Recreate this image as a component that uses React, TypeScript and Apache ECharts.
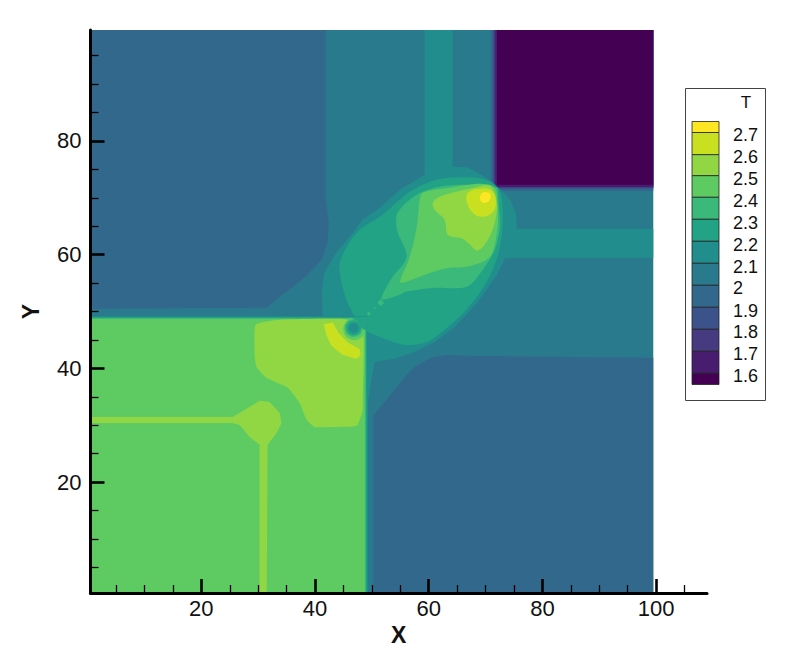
import React, { useEffect, useRef } from "react";
import * as echarts from "echarts";

type Pt = [number, number];

const FONT = "'Liberation Sans', Arial, sans-serif";

const legendTitle = "T";
const legendLabels = ["2.7", "2.6", "2.5", "2.4", "2.3", "2.2", "2.1", "2", "1.9", "1.8", "1.7", "1.6"];
const bandColors = ["#fde725", "#c8e020", "#91d743", "#5ecb62", "#3bb97a", "#22a385", "#218e8d", "#2a7a8e", "#33688d", "#3b528b", "#463a81", "#481d6f", "#440154"];
const [cTop, c27, c26, c25, c24, c23, c22, c21, c20, c19, c18, c17, c16] = bandColors;

const xMajor = [20, 40, 60, 80, 100];
const xMinor = [5, 10, 15, 25, 30, 35, 45, 50, 55, 65, 70, 75, 85, 90, 95, 105];
const yMajor = [20, 40, 60, 80];
const yMinor = [5, 10, 15, 25, 30, 35, 45, 50, 55, 65, 70, 75, 85, 90, 95];

const domain: Pt[] = [[0.5, 0.5], [99.5, 0.5], [99.5, 99.5], [0.5, 99.5]];
const topLeft20: Pt[] = [[0.5, 99.5], [41.9, 99.5], [41.9, 69.65], [42.4, 65.6], [42.2, 62.1], [41.2, 59.1], [38.7, 56.5], [36.1, 54.3], [33.8, 52.6], [31.5, 50.65], [0.5, 50.5]];
const bottomRight20: Pt[] = [[50.3, 0.5], [99.5, 0.5], [99.5, 41.85], [66.3, 42.2], [63.4, 42.4], [60.5, 41.85], [57.5, 40.3], [55.8, 38.5], [52.8, 34.8], [50.3, 31.8]];

const corner = (x: number, y: number): Pt[] => [[x, y], [99.5, y], [99.5, 99.5], [x, 99.5]];
const corner20 = corner(70.9, 71.2);
const corner19 = corner(71.3, 71.6);
const corner18 = corner(71.45, 71.75);
const corner17 = corner(71.7, 71.9);
const corner16 = corner(72, 72.3);

const blob22: Pt[] = [[59.3, 99.5], [64.2, 99.5], [64.2, 75.5], [66.9, 75.3], [69.3, 74.05], [71.1, 72.8], [73, 71.06], [74.3, 69.65], [75.3, 67.5], [75.5, 64.55], [99.5, 64.55], [99.5, 59.45], [75.1, 59.45], [73.4, 59.3], [72, 56.45], [68.5, 51.5], [64.6, 47.3], [61.1, 44.7], [57.5, 42.9], [54, 41.7], [50.5, 41.15], [50, 38.5], [49.3, 33.9], [49.1, 29.2], [48.9, 45], [46.1, 49.2], [41.3, 49.2], [41.3, 50.65], [41.2, 53.8], [41.7, 57], [43.8, 60.5], [46.1, 63.15], [48.4, 66.15], [51.4, 68.25], [54.9, 71.4], [59.3, 74.05]];
const blob23: Pt[] = [[49.3, 46.4], [52.8, 45], [56.3, 44.1], [59.8, 44.7], [62.8, 46.8], [66.3, 49.95], [69.9, 54.7], [72.2, 60], [73, 65.25], [72.7, 70.55], [71.1, 72.65], [68.5, 73.5], [63.7, 73.5], [60.2, 72.8], [56.7, 71.05], [54.9, 69.65], [51.4, 66.65], [47.9, 64.4], [45.6, 61.4], [44.3, 58.2], [45.2, 52.95], [46.5, 49.95], [47.5, 48.2], [48.9, 46.8]];
const blob24: Pt[] = [[72, 71.75], [66.7, 72.3], [61.9, 71.95], [57.9, 70.55], [54.55, 67.4], [54.4, 64.4], [56.1, 59.6], [53.5, 55.9], [51.7, 52.6], [51.9, 52.05], [54.9, 52.95], [56.1, 53.5], [60.7, 54.15], [66.7, 54.35], [69.5, 57.35], [71.6, 60.85], [72.5, 64.9], [72.2, 70.2]];
const speck1: Pt[] = [[50.95, 51.55], [51.55, 52.15], [52.15, 51.55], [51.55, 50.95]];
const speck2: Pt[] = [[50.3, 50.65], [50.5, 50.85], [50.7, 50.65], [50.5, 50.45]];
const speck3: Pt[] = [[49.1, 49.6], [49.45, 49.95], [49.8, 49.6], [49.45, 49.25]];
const blob25: Pt[] = [[58.4, 69.65], [58.95, 70.9], [63.7, 71.75], [69, 72.45], [71.6, 71.75], [72.15, 67.9], [72, 63.85], [70.75, 59.6], [66.7, 57.85], [63.7, 57.7], [60.7, 56.95], [55.4, 55.05], [54.9, 55.2], [56.65, 59.6], [57.9, 64.9]];
const blob26: Pt[] = [[60.7, 69.1], [61.95, 70.2], [67.2, 71.6], [70.75, 72.1], [72, 69.1], [71.6, 65.6], [70.4, 62.6], [68.6, 60.7], [66.9, 62.1], [66, 62.8], [63.35, 63.5], [62.8, 66.15], [61.05, 67.9]];
const blob27: Pt[] = [[66.7, 69.3], [66.9, 70.9], [69, 71.6], [71.1, 71.25], [71.8, 69.3], [71.3, 67.55], [69.5, 66.65], [67.75, 67.35]];
const peak: Pt[] = [[69, 70.2], [69.5, 70.9], [70.75, 70.7], [70.75, 69.65], [69.85, 69.1], [69.15, 69.45]];

const box = (x: number, y: number): Pt[] => [[0.5, 0.5], [x, 0.5], [x, y], [0.5, y]];
const lowerLeft22 = box(49.3, 49.15);
const lowerLeft23 = box(49.1, 49);
const lowerLeft24 = box(48.95, 48.9);
const lowerLeft25 = box(48.75, 48.7);
const lower26: Pt[] = [[29.55, 47.65], [33.8, 48.55], [44.85, 48.7], [48.4, 47.65], [48.4, 34.45], [48.4, 32.7], [47.3, 29.9], [43.1, 29.7], [39.95, 29.7], [38.5, 30.95], [37.3, 33.9], [35.2, 36.6], [31.5, 38.3], [29.7, 40.25], [29.4, 42]];
const lower27: Pt[] = [[41.6, 47.7], [43.1, 48], [44.1, 46.3], [45.7, 44.6], [47.8, 43.4], [48, 42.4], [47.3, 41.7], [44.7, 42.5], [42.9, 44], [42, 45.9]];
const jet26: Pt[] = [[0.5, 31.45], [25.5, 31.45], [27.1, 32.35], [30.25, 34.3], [32, 34.1], [33.8, 32.15], [34.1, 30.4], [33.25, 28.65], [31.65, 26.55], [31.5, 0.5], [30.25, 0.5], [30.25, 26.55], [28.5, 27.95], [26.75, 30.05], [25.5, 30.4], [0.5, 30.4]];
const wedge23: Pt[] = [[46.1, 49.05], [49.3, 49.05], [49.3, 46.4], [48.2, 47.1], [47.5, 48.35]];

const ring25 = [46.9, 46.9, 1.95];
const ring24 = [46.8, 47.1, 1.6];
const ring23 = [46.8, 47.1, 1.3];
const hole22 = [46.8, 47.1, 0.88];

type Layer = { pts?: Pt[]; ring?: number[]; color: string; smooth?: number };
const layers: Layer[] = [
  { pts: domain, color: c21 },
  { pts: topLeft20, color: c20 },
  { pts: bottomRight20, color: c20 },
  { pts: corner20, color: c20 },
  { pts: corner19, color: c19 },
  { pts: corner18, color: c18 },
  { pts: corner17, color: c17 },
  { pts: corner16, color: c16 },
  { pts: blob22, color: c22 },
  { pts: blob23, color: c23, smooth: 0.3 },
  { pts: blob24, color: c24, smooth: 0.3 },
  { pts: speck1, color: c24 },
  { pts: speck2, color: c24 },
  { pts: speck3, color: c24 },
  { pts: blob25, color: c25, smooth: 0.3 },
  { pts: blob26, color: c26, smooth: 0.3 },
  { pts: blob27, color: c27, smooth: 0.4 },
  { pts: peak, color: cTop, smooth: 0.4 },
  { pts: lowerLeft22, color: c22 },
  { pts: lowerLeft23, color: c23 },
  { pts: lowerLeft24, color: c24 },
  { pts: lowerLeft25, color: c25 },
  { pts: lower26, color: c26, smooth: 0.15 },
  { pts: jet26, color: c26 },
  { pts: lower27, color: c27, smooth: 0.1 },
  { ring: ring25, color: c25 },
  { ring: ring24, color: c24 },
  { ring: ring23, color: c23 },
  { pts: wedge23, color: c23 },
  { ring: hole22, color: c22 },
];

const axisBase = { type: "value" as const, splitLine: { show: false } };

function legendGraphics() {
  const left = 692, width = 27;
  const edges = [121.5, 132.5, 154.7, 175.7, 197.3, 219.3, 241.3, 263.3, 285.3, 307.3, 329.3, 351.3, 373.3, 384.5];
  const labelY = [135, 157.3, 179.3, 200.7, 222.7, 245, 266.7, 288.3, 310.7, 332.3, 354.3, 376];
  const els: any[] = [
    { type: "rect", shape: { x: 685.5, y: 88.5, width: 80, height: 312 }, style: { fill: "#fff", stroke: "#444", lineWidth: 1 } },
    { type: "text", x: 746, y: 102.5, style: { text: legendTitle, fill: "#111", font: `17px ${FONT}`, textAlign: "center", textVerticalAlign: "middle" } },
  ];
  bandColors.forEach((c, i) => {
    els.push({ type: "rect", shape: { x: left, y: edges[i], width, height: edges[i + 1] - edges[i] }, style: { fill: c, stroke: "#222", lineWidth: 0.8 } });
  });
  legendLabels.forEach((t, i) => {
    els.push({ type: "text", x: 733, y: labelY[i], style: { text: t, fill: "#111", font: `18px ${FONT}`, textAlign: "left", textVerticalAlign: "middle" } });
  });
  return els;
}

export default function App() {
  const ref = useRef<HTMLDivElement>(null);
  useEffect(() => {
    const chart = echarts.init(ref.current!, undefined, { renderer: "svg" });
    chart.setOption({
      animation: false,
      backgroundColor: "#fff",
      grid: { left: 90.5, top: 30, width: 616.5, height: 563, containLabel: false, outerBoundsMode: "none" },
      xAxis: [
        {
          ...axisBase, min: 0.5, max: 108.95, position: "bottom", z: 10,
          name: "X", nameLocation: "middle", nameGap: 26,
          nameTextStyle: { fontFamily: FONT, fontSize: 23, fontWeight: "bold", color: "#111" },
          axisLine: { show: true, lineStyle: { color: "#000", width: 3 } },
          axisTick: { show: true, inside: true, length: 14, lineStyle: { color: "#000", width: 2.6 }, customValues: xMajor },
          axisLabel: { show: true, customValues: xMajor, margin: 4, fontFamily: FONT, fontSize: 22, color: "#111" },
        },
        {
          ...axisBase, min: 0.5, max: 108.95, position: "bottom", z: 10,
          axisLine: { show: false },
          axisTick: { show: true, inside: true, length: 8, lineStyle: { color: "#000", width: 1.3 }, customValues: xMinor },
          axisLabel: { show: false },
        },
      ],
      yAxis: [
        {
          ...axisBase, min: 0.5, max: 99.5, position: "left", z: 10,
          name: "Y", nameLocation: "middle", nameGap: 48, nameRotate: 90,
          nameTextStyle: { fontFamily: FONT, fontSize: 23, fontWeight: "bold", color: "#111" },
          axisLine: { show: true, lineStyle: { color: "#000", width: 3 } },
          axisTick: { show: true, inside: true, length: 14, lineStyle: { color: "#000", width: 2.6 }, customValues: yMajor },
          axisLabel: { show: true, customValues: yMajor, margin: 9, fontFamily: FONT, fontSize: 22, color: "#111" },
        },
        {
          ...axisBase, min: 0.5, max: 99.5, position: "left", z: 10,
          axisLine: { show: false },
          axisTick: { show: true, inside: true, length: 8, lineStyle: { color: "#000", width: 1.3 }, customValues: yMinor },
          axisLabel: { show: false },
        },
      ],
      series: [
        {
          type: "custom",
          coordinateSystem: "cartesian2d",
          xAxisIndex: 0,
          yAxisIndex: 0,
          silent: true,
          clip: true,
          data: layers.map((_, i) => [i, 0]),
          renderItem: (params: any, api: any) => {
            const l = layers[params.dataIndex];
            if (l.ring) {
              const [cx, cy] = api.coord([l.ring[0], l.ring[1]]);
              const r = api.size([l.ring[2], 0])[0];
              return { type: "circle", shape: { cx, cy, r }, style: { fill: l.color } };
            }
            return { type: "polygon", shape: { points: l.pts!.map((p) => api.coord(p)), smooth: l.smooth || 0 }, style: { fill: l.color } };
          },
        },
      ],
      graphic: legendGraphics(),
    });
    return () => chart.dispose();
  }, []);
  return <div ref={ref} style={{ position: "absolute", left: 0, top: 0, width: 788, height: 651 }} />;
}
